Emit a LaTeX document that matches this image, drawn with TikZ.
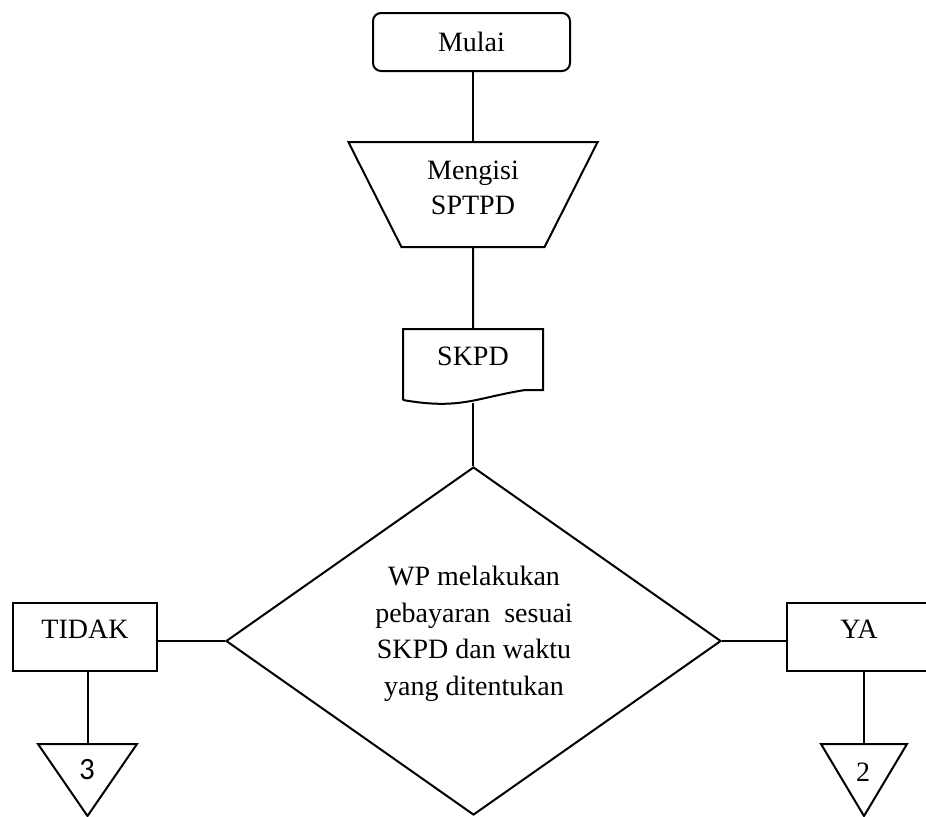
\documentclass[tikz,border=0pt]{standalone}
\usepackage{fontspec}
\setmainfont{Liberation Serif}
\newfontfamily\digitfont{Carlito}
\usetikzlibrary{shapes.geometric,calc}

\tikzset{
  every node/.style={font=\fontsize{14}{17}\selectfont},
  startbox/.style={draw,rounded corners=4pt,minimum width=98.5pt,minimum height=29pt},
  inputbox/.style={draw,trapezium,trapezium stretches,shape border rotate=180,
    trapezium angle=64,minimum width=125pt,minimum height=52.5pt,align=center,text depth=6.5pt},
  docbox/.style={minimum width=69pt,minimum height=34.5pt,text depth=8pt},
  decbox/.style={draw,diamond,minimum width=247.5pt,minimum height=174pt,inner sep=0pt},
  answerbox/.style={draw,minimum width=72pt,minimum height=34pt,text depth=7.5pt},
  connector/.style={draw,isosceles triangle,isosceles triangle stretches,
    shape border rotate=-90,minimum width=49.5pt,minimum height=36pt,inner sep=0pt,anchor=north}
}

\begin{document}
\begin{tikzpicture}[x=0.5pt,y=-0.5pt,line width=1pt]
\useasboundingbox (0,0) rectangle (926,816);
\clip (0,0) rectangle (926,816);

\node[startbox] (mulai) at (471.5,42) {Mulai};
\node[inputbox] (sptpd) at (473,194.5) {Mengisi\\[0.5pt]SPTPD};
\node[docbox] (skpd) at (473,364.5) {SKPD};
\draw (skpd.south west) -- (skpd.north west) -- (skpd.north east)
  -- ($(skpd.south east)+(0,-10)$) -- ++(-18,0)
  .. controls (475,398) and (460,410) .. (skpd.south west);
\coordinate (skpdb) at ($(skpd.south)+(0,2.5)$);

\node[decbox] (bayar) at (473.5,641) {};
\node[align=center,font=\fontsize{14}{18.25}\selectfont] (bayartext) at (474,634)
  {WP melakukan\\pebayaran\ \ sesuai\\SKPD dan waktu\\yang ditentukan};

%%%%%%%%%%%%%%%%%%%%%%%%%%%%%%%%%%%%%%%%%%%%
\node[answerbox] (tidak) at (85,637) {TIDAK};
\node[answerbox] (ya) at (859,637) {YA};

\node[connector] (hal3) at (87.5,743) {};
\node[font=\digitfont\fontsize{15.5}{17}\selectfont] (no3) at (87,770) {3};
\node[connector,minimum width=43pt] (hal2) at (864,743) {};
\node (no2) at (863,772) {2};

\draw (sptpd.north |- mulai.south) -- (sptpd.north);
\draw (sptpd.south) -- (skpd.north);
\draw (skpdb) -- (skpdb |- bayar.north);
\draw (bayar.west) -- (bayar.west -| tidak.east);
\draw (bayar.east) -- (bayar.east -| ya.west);
\draw (hal3.north |- tidak.south) -- (hal3.north);
\draw (hal2.north |- ya.south) -- (hal2.north);

\end{tikzpicture}
\end{document}
